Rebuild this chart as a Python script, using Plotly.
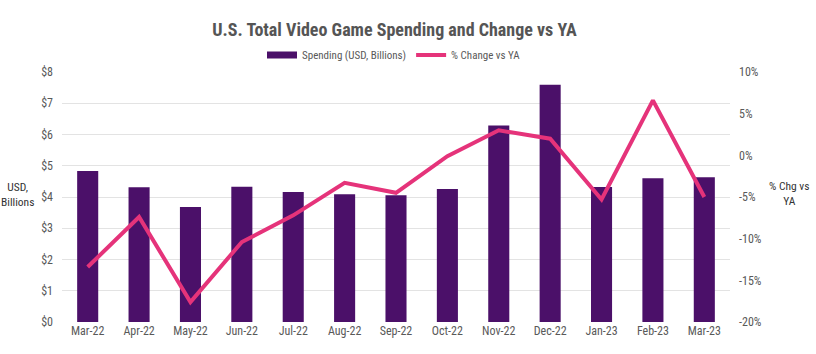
import plotly.graph_objects as go

months = ["Mar-22", "Apr-22", "May-22", "Jun-22", "Jul-22", "Aug-22", "Sep-22",
          "Oct-22", "Nov-22", "Dec-22", "Jan-23", "Feb-23", "Mar-23"]
spending = [4.83, 4.31, 3.68, 4.33, 4.16, 4.09, 4.06, 4.26, 6.29, 7.59, 4.32, 4.60, 4.63]
pct_change = [-13.4, -7.4, -17.6, -10.4, -7.2, -3.3, -4.5, -0.1, 3.0, 2.0, -5.3, 6.6, -5.0]
left_ticks = [0, 1, 2, 3, 4, 5, 6, 7, 8]
left_labels = ["$" + str(v) for v in left_ticks]
right_ticks = [-20, -15, -10, -5, 0, 5, 10]
right_labels = [str(v) + "%" for v in right_ticks]

FONT = "Liberation Sans Narrow, Roboto Condensed, Roboto, sans-serif"
PURPLE = "#4b1069"
PINK = "#e5337a"

fig = go.Figure()
fig.add_trace(go.Bar(x=months, y=spending, name="Spending (USD, Billions)",
                     marker=dict(color=PURPLE, line=dict(width=0)), yaxis="y",
                     showlegend=False, legendgroup="s"))
# legend-only entry to show a wide rectangular swatch like the reference
fig.add_trace(go.Scatter(x=[None], y=[None], name="Spending (USD, Billions)", mode="lines",
                         line=dict(color=PURPLE, width=7), yaxis="y", legendgroup="s"))
fig.add_trace(go.Scatter(x=months, y=pct_change, name="% Change vs YA", mode="lines",
                         line=dict(color=PINK, width=4), yaxis="y2"))

plot_w = 816 - 62 - 86
fig.update_layout(
    width=816, height=354,
    margin=dict(l=62, r=86, t=72, b=32),
    paper_bgcolor="white", plot_bgcolor="white",
    font=dict(family=FONT, size=12, color="#595959"),
    bargap=0.59,
    showlegend=True,
    title=dict(text="<b>U.S. Total Video Game Spending and Change vs YA</b>",
               x=394.5 / 816, xanchor="center", y=1 - 30 / 354, yanchor="middle",
               font=dict(family=FONT, size=18, color="#555555")),
    legend=dict(orientation="h", x=(394 - 62) / plot_w, xanchor="center",
                y=(322 - 55) / 250, yanchor="middle",
                font=dict(family=FONT, size=11, color="#595959"),
                itemwidth=30, traceorder="normal"),
    xaxis=dict(showgrid=False, showline=False, ticks="", zeroline=False,
               tickfont=dict(size=12, color="#595959")),
    yaxis=dict(range=[0, 8], tickvals=left_ticks, ticktext=left_labels,
               showgrid=True, gridcolor="#e3e3e3", gridwidth=1, zeroline=False,
               showline=False, ticks="", ticklabelstandoff=8,
               tickfont=dict(size=12, color="#595959")),
    yaxis2=dict(range=[-20, 10], tickvals=right_ticks, ticktext=right_labels,
                overlaying="y", side="right", showgrid=False, zeroline=False,
                showline=False, ticks="", ticklabelstandoff=8,
                tickfont=dict(size=12, color="#595959")),
    annotations=[
        dict(text="USD,<br>Billions", x=(18 - 62) / plot_w, xref="paper",
             y=(322 - 194) / 250, yref="paper", xanchor="center", yanchor="middle",
             showarrow=False, font=dict(family=FONT, size=11.5, color="#333333")),
        dict(text="% Chg vs<br>YA", x=(789 - 62) / plot_w, xref="paper",
             y=(322 - 193) / 250, yref="paper", xanchor="center", yanchor="middle",
             showarrow=False, font=dict(family=FONT, size=11.5, color="#333333")),
    ],
)

fig.write_html("out.html")
